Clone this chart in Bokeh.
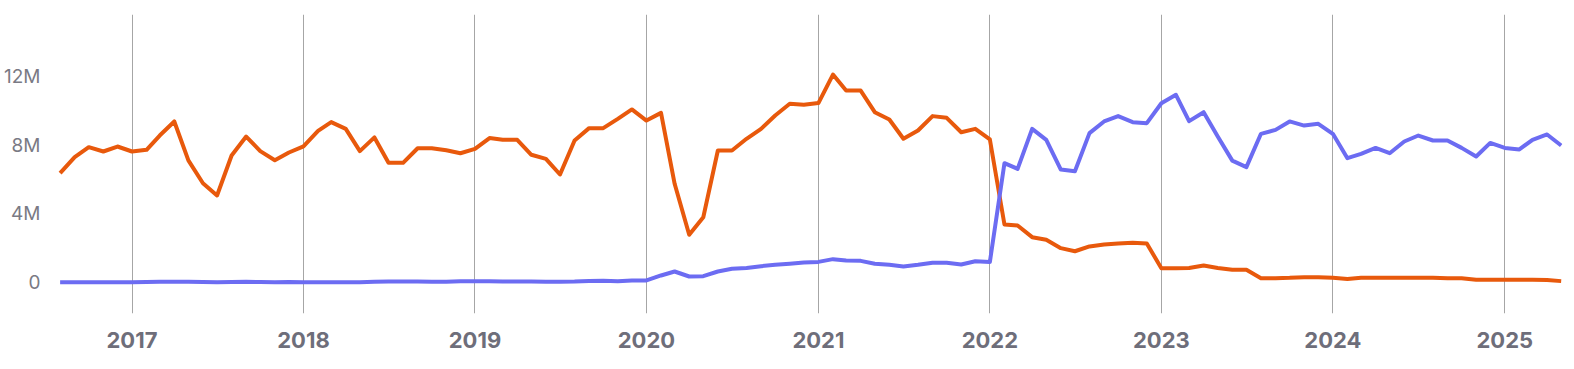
import pandas as pd
from bokeh.plotting import figure
from bokeh.models import Range1d, FixedTicker, DatetimeTickFormatter
from bokeh.embed import file_html
from bokeh.resources import INLINE

# Monthly data, Aug 2016 .. May 2025 (values in millions)
start_month = "2016-08-01"

orange_m = [
    6.37, 7.30, 7.88, 7.63, 7.92,
    7.63, 7.73, 8.56, 9.38, 7.11, 5.78, 5.07, 7.40, 8.50, 7.65, 7.12, 7.57,
    7.93, 8.83, 9.34, 8.95, 7.65, 8.45, 6.97, 6.97, 7.82, 7.82, 7.70, 7.53,
    7.78, 8.41, 8.31, 8.31, 7.44, 7.20, 6.29, 8.27, 8.99, 8.99, 9.53, 10.08,
    9.43, 9.88, 5.75, 2.78, 3.80, 7.69, 7.69, 8.37, 8.95, 9.73, 10.41, 10.35,
    10.45, 12.11, 11.18, 11.18, 9.92, 9.49, 8.37, 8.85, 9.69, 9.59, 8.75, 8.95,
    8.33, 3.38, 3.32, 2.64, 2.49, 2.00, 1.82, 2.10, 2.21, 2.27, 2.31, 2.27,
    0.83, 0.83, 0.85, 0.99, 0.85, 0.74, 0.74, 0.25, 0.25, 0.27, 0.31, 0.31,
    0.27, 0.21, 0.27, 0.27, 0.27, 0.27, 0.27, 0.27, 0.25, 0.25, 0.16, 0.16,
    0.16, 0.16, 0.16, 0.14, 0.08,
]

blue_m = [
    0.02, 0.02, 0.02, 0.02, 0.02,
    0.02, 0.03, 0.04, 0.04, 0.04, 0.03, 0.02, 0.03, 0.04, 0.03, 0.02, 0.03,
    0.02, 0.02, 0.02, 0.02, 0.02, 0.04, 0.06, 0.06, 0.06, 0.05, 0.05, 0.07,
    0.08, 0.08, 0.06, 0.06, 0.06, 0.05, 0.05, 0.06, 0.09, 0.10, 0.07, 0.12,
    0.12, 0.41, 0.64, 0.35, 0.37, 0.64, 0.80, 0.85, 0.95, 1.03, 1.09, 1.16,
    1.20, 1.36, 1.28, 1.26, 1.09, 1.03, 0.93, 1.03, 1.15, 1.15, 1.05, 1.24,
    1.20, 6.95, 6.62, 8.95, 8.31, 6.58, 6.48, 8.70, 9.38, 9.69, 9.34, 9.28,
    10.44, 10.93, 9.40, 9.92, 8.50, 7.10, 6.72, 8.66, 8.89, 9.38, 9.14, 9.24,
    8.66, 7.24, 7.49, 7.84, 7.53, 8.21, 8.56, 8.27, 8.27, 7.84, 7.34, 8.13,
    7.84, 7.75, 8.31, 8.62, 7.98,
]

year_ticks = [2017, 2018, 2019, 2020, 2021, 2022, 2023, 2024, 2025]
y_ticks = [0, 4_000_000, 8_000_000, 12_000_000]
y_tick_labels = ["0", "4M", "8M", "12M"]

dates = pd.date_range(start_month, periods=len(orange_m), freq="MS")
orange = [v * 1e6 for v in orange_m]
blue = [v * 1e6 for v in blue_m]

# layout geometry (pixels); the figure sits at the page's top-left corner
W, H = 1566, 361
left_b, right_b, top_b = 56, 4, 14
frame_bottom = 313
bottom_b = H - frame_bottom
px_per_day = (1504.3 - 131.5) / 2922.0
frame_left_page = left_b
frame_right_page = W - right_b
x0 = pd.Timestamp("2017-01-01") - pd.Timedelta(days=(131.5 - frame_left_page) / px_per_day)
x1 = pd.Timestamp("2025-01-01") + pd.Timedelta(days=(frame_right_page - 1504.3) / px_per_day)

px_per_unit = 17.17 / 1e6
y_top = (282 - top_b) / px_per_unit
y_bot = -(frame_bottom - 282) / px_per_unit

p = figure(width=W, height=H, x_axis_type="datetime",
           x_range=Range1d(x0.to_pydatetime(), x1.to_pydatetime()),
           y_range=Range1d(y_bot, y_top),
           output_backend="svg", toolbar_location=None,
           min_border_left=left_b, min_border_right=right_b,
           min_border_top=top_b, min_border_bottom=bottom_b)

p.outline_line_color = None
p.background_fill_color = "white"
p.border_fill_color = "white"

p.line(dates, orange, line_color="#e8590c", line_width=4, line_join="round")
p.line(dates, blue, line_color="#6c6cf2", line_width=4, line_join="round")

tick_ms = [pd.Timestamp(f"{y}-01-01").value / 1e6 for y in year_ticks]
p.xaxis.ticker = FixedTicker(ticks=tick_ms)
p.xaxis.formatter = DatetimeTickFormatter(years="%Y", months="%Y", days="%Y",
                                          hours="%Y", minutes="%Y", seconds="%Y",
                                          milliseconds="%Y", microseconds="%Y",
                                          hourmin="%Y", minsec="%Y")
p.xaxis.axis_line_color = None
p.xaxis.major_tick_line_color = None
p.xaxis.minor_tick_line_color = None
p.xaxis.major_tick_out = 0
p.xaxis.major_tick_in = 0
p.xaxis.major_label_standoff = 18
p.xaxis.major_label_text_font = "Inter"
p.xaxis.major_label_text_font_style = "bold"
p.xaxis.major_label_text_font_size = "22px"
p.xaxis.major_label_text_color = "#6e6e7a"

p.yaxis.ticker = FixedTicker(ticks=y_ticks)
p.yaxis.major_label_overrides = {t: s for t, s in zip(y_ticks, y_tick_labels)}
p.yaxis.axis_line_color = None
p.yaxis.major_tick_line_color = None
p.yaxis.minor_tick_line_color = None
p.yaxis.major_tick_out = 0
p.yaxis.major_tick_in = 0
p.yaxis.major_label_standoff = 16
p.yaxis.major_label_text_font = "Inter"
p.yaxis.major_label_text_font_size = "19px"
p.yaxis.major_label_text_color = "#7a7a84"

p.xgrid.grid_line_color = "#a6a6a6"
p.xgrid.grid_line_width = 1
p.ygrid.grid_line_color = None

open("out.html", "w").write(file_html(p, INLINE))
